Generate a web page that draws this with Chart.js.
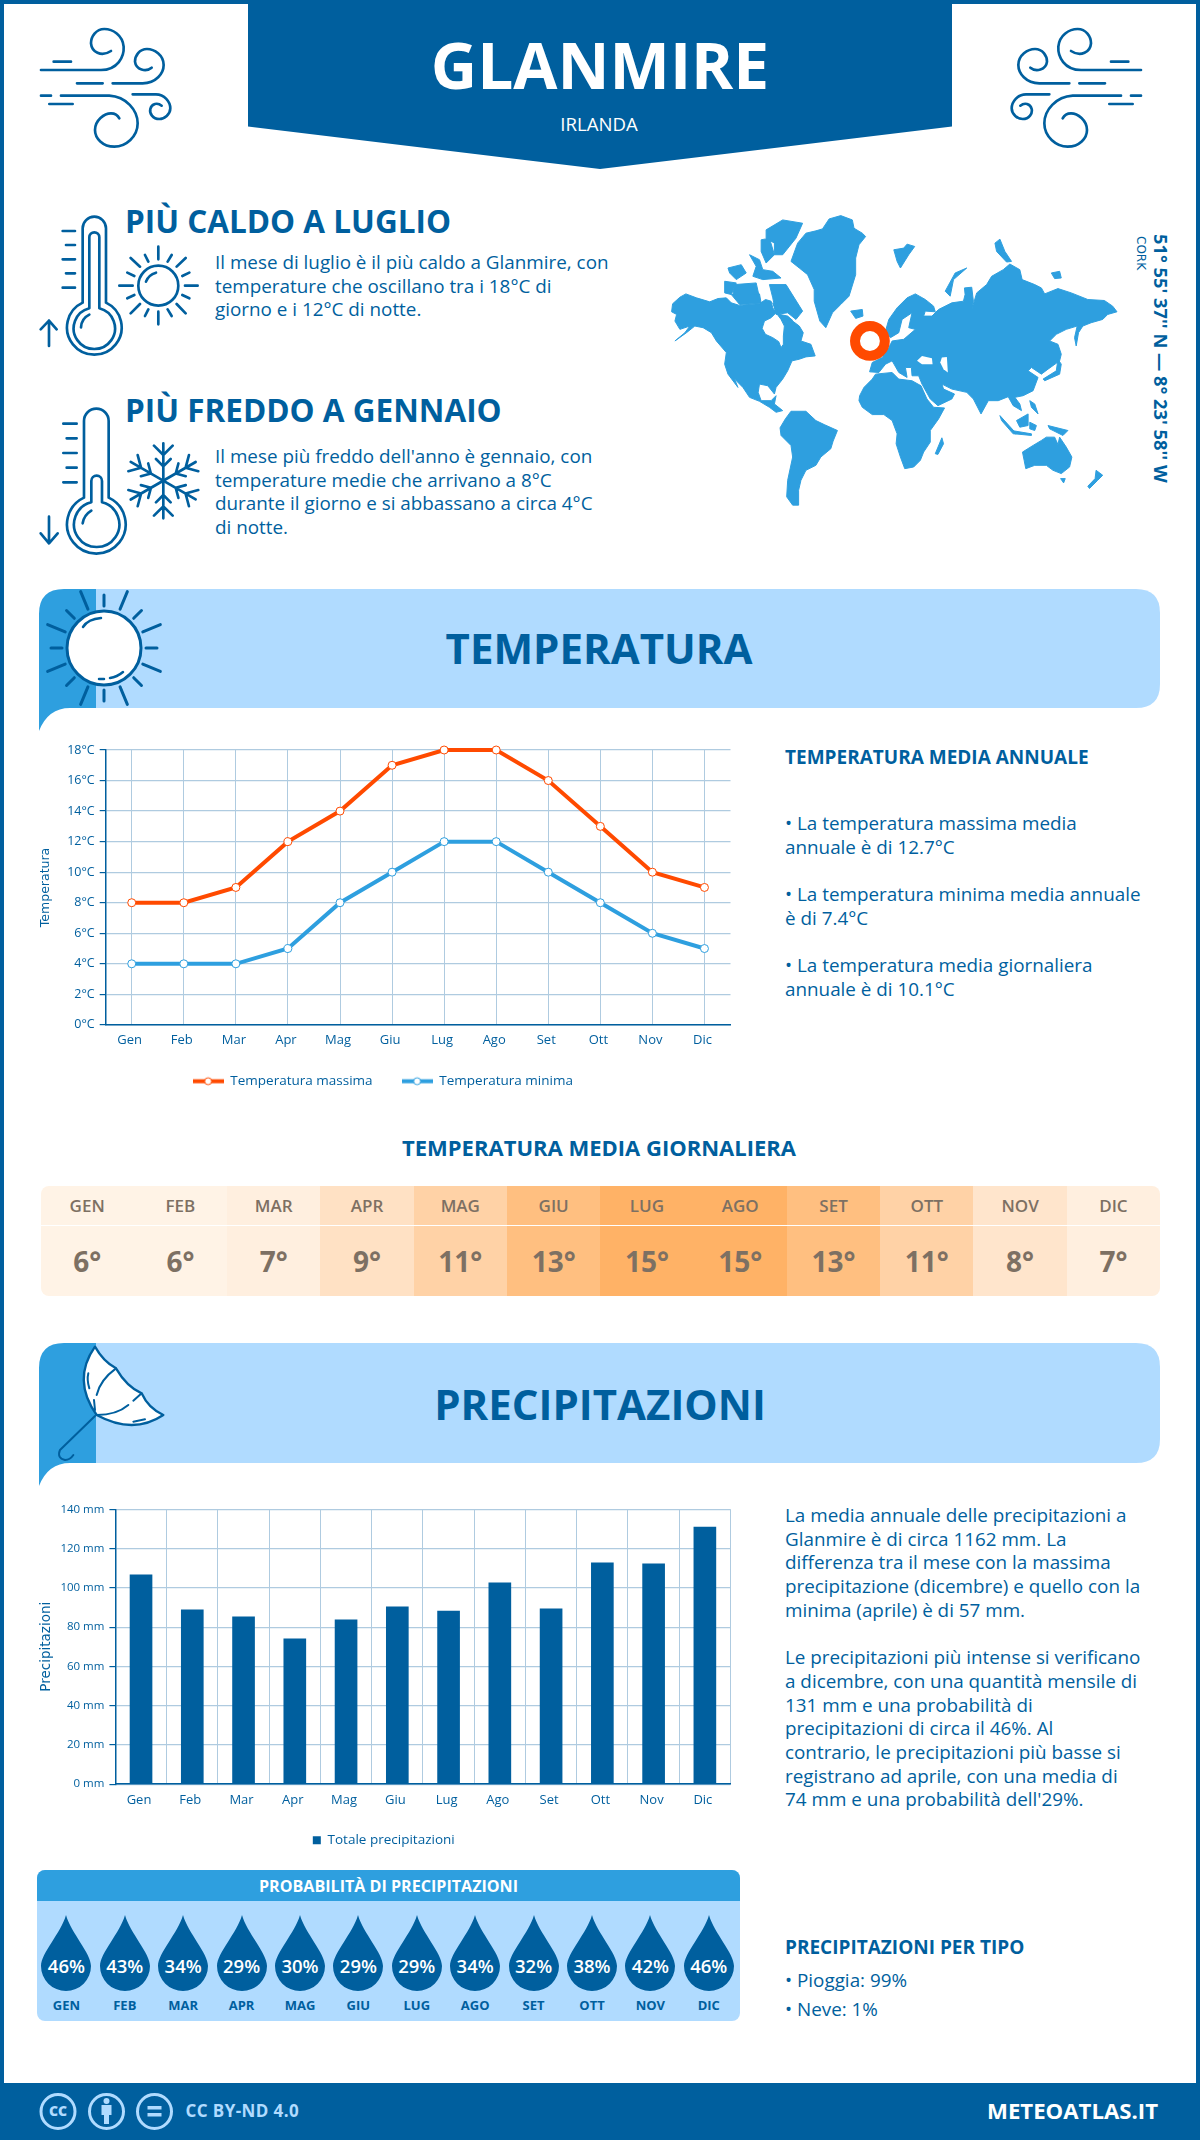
<!DOCTYPE html>
<html lang="it">
<head>
<meta charset="utf-8">
<title>Glanmire - Irlanda</title>
<script src="https://cdn.jsdelivr.net/npm/chart.js@4/dist/chart.umd.min.js"></script>
<style>
  html, body { margin: 0; padding: 0; background: #fff; }
  body { position: relative; width: 1200px; height: 2140px; overflow: hidden; font-family: "Open Sans", sans-serif; color: #005f9e; }
  .t { position: absolute; white-space: nowrap; }
  .c { transform: translateX(-50%); text-align: center; }
  .p { font-size: 18.85px; line-height: 23.7px; }
  .h { font-size: 31.5px; line-height: 40px; font-weight: 700; left: 125px; }
  .h3 { font-size: 19px; line-height: 26px; font-weight: 700; left: 785px; }
  canvas { position: absolute; }
  svg.deco { position: absolute; left: 0; top: 0; }
  .ln { fill: none; stroke: #005f9e; stroke-width: 8; stroke-linecap: round; stroke-linejoin: round; }
  #heat { position: absolute; left: 40.5px; top: 1185.7px; width: 1119.5px; height: 110px; display: flex; border-radius: 8px; overflow: hidden; color: #7d7063; }
  #heat div.col { flex: 1; position: relative; text-align: center; }
  #heat .m { position: absolute; left: 0; right: 0; top: 0; height: 39px; line-height: 39px; font-size: 17px; font-weight: 600; border-bottom: 1.5px solid #fff; }
  #heat .v { position: absolute; left: 0; right: 0; top: 41px; height: 68px; line-height: 68px; font-size: 28px; font-weight: 700; }
  #prob { position: absolute; left: 37px; top: 1870px; width: 703px; height: 151px; background: #b0dbff; border-radius: 8px; overflow: hidden; }
  #prob .head { background: #2e9fdf; height: 31px; line-height: 33px; text-align: center; color: #fff; font-size: 16.1px; font-weight: 700; }
  #prob .cell { position: absolute; top: 45px; width: 50px; text-align: center; }
  #prob svg { display: block; }
  #prob .pc { position: absolute; left: -5px; right: -5px; top: 38px; line-height: 26px; color: #fff; font-size: 18.5px; font-weight: 600; }
  #prob .mo { position: absolute; left: -5px; right: -5px; top: 80px; line-height: 20px; font-size: 13px; font-weight: 700; }
  #foot { position: absolute; left: 0; top: 2083px; width: 1200px; height: 57px; background: #005f9e; }
</style>
</head>
<body>

<div id="foot"></div>

<svg class="deco" width="1200" height="2140" viewBox="0 0 1200 2140">
  <!-- page frame -->
  <rect x="2" y="2" width="1196" height="2136" fill="none" stroke="#005f9e" stroke-width="4"/>

  <!-- header ribbon -->
  <polygon points="248,0 952,0 952,126.5 600,169 248,126.5" fill="#005f9e"/>

  <defs>
    <g id="wind">
      <path class="ln" d="M30 165H210C260 165 280 125 278 95C275 60 245 42 220 42C195 42 180 65 180 85C182 110 210 128 240 108"/>
      <path class="ln" d="M68 140H120M138 205H215M30 242H60M55 267H125"/>
      <path class="ln" d="M245 205H335C375 205 398 175 398 150C398 120 370 102 348 102C325 102 312 122 312 140C315 165 345 172 362 158"/>
      <path class="ln" d="M90 242H235C285 245 320 285 320 325C320 365 285 395 250 395C215 395 192 370 192 345C192 315 220 295 240 295C252 295 260 300 265 310"/>
      <path class="ln" d="M305 238H375C400 238 418 260 418 280C418 298 400 312 385 312C365 312 355 295 358 282C362 265 380 262 392 272"/>
    </g>
    <g id="flakeArm">
      <path class="ln" d="M430 145V370M402 152L430 180L458 152M408 192L430 214L452 192M402 362L430 334L458 362M408 322L430 300L452 322"/>
    </g>
  </defs>
  <use href="#wind" transform="translate(31 15) scale(.3333)"/>
  <use href="#wind" transform="translate(1151 15) scale(-.3333 .3333)"/>

  <!-- hot thermometer + sun -->
  <g transform="translate(20 200) scale(.3333)">
    <path class="ln" d="M188 308V85A35 35 0 0 1 258 85V308A82 82 0 1 1 188 308Z"/>
    <path class="ln" d="M208 325V112A15 15 0 0 1 238 112V325A62 62 0 1 1 208 325Z"/>
    <path class="ln" d="M183 382Q185 355 208 344"/>
    <path class="ln" d="M128 93H165M138 135H165M128 178H165M138 220H165M128 263H165"/>
    <path class="ln" d="M87 438V362M62 388L87 362L110 388"/>
    <circle class="ln" cx="415" cy="257" r="60"/>
    <path class="ln" d="M378 245Q385 225 408 218"/>
    <path class="ln" d="M415 140V178M415 335V373M298 257H338M495 257H533M332 174L360 200M497 174L470 200M332 340L360 312M497 340L470 312"/>
    <path class="ln" d="M375 165L385 185M455 165L443 185M322 218L343 228M508 218L487 228M322 295L343 285M508 295L487 285M375 348L385 328M455 348L443 328"/>
  </g>

  <!-- cold thermometer + snowflake -->
  <g transform="translate(20 395) scale(.3333)">
    <path class="ln" d="M192 308V78A37 37 0 0 1 266 78V308A88 88 0 1 1 192 308Z"/>
    <path class="ln" d="M214 322V258A16 16 0 0 1 246 258V322A68 68 0 1 1 214 322Z"/>
    <path class="ln" d="M188 385Q192 360 214 347"/>
    <path class="ln" d="M130 86H170M140 130H170M130 174H170M140 218H170M130 262H170"/>
    <path class="ln" d="M87 365V445M62 415L87 445L113 415"/>
    <use href="#flakeArm"/>
    <use href="#flakeArm" transform="rotate(60 430 257)"/>
    <use href="#flakeArm" transform="rotate(120 430 257)"/>
  </g>

  <!-- world map -->
  <g transform="translate(660 205) scale(.33163)" fill="#2e9fdf" stroke="#2e9fdf" stroke-width="3" stroke-linejoin="round">
    <polygon points="38,298 60,278 78,268 110,280 150,292 175,282 200,280 215,295 240,303 265,300 300,298 318,285 335,290 340,310 350,325 335,340 315,350 308,372 318,390 340,400 358,412 365,430 372,420 372,395 375,365 365,345 385,340 400,350 420,365 432,385 425,410 455,420 468,455 440,458 420,465 398,470 385,500 370,525 350,550 345,570 325,545 300,540 296,565 305,590 335,590 350,575 345,600 370,620 350,625 330,610 300,592 270,580 250,550 225,525 235,550 205,510 195,480 200,445 170,410 155,385 130,370 105,365 80,385 45,410 75,385 90,365 60,375 45,350 50,330 35,322"/>
    <polygon points="205,190 245,180 260,205 230,225 210,205"/>
    <polygon points="195,230 230,235 215,270 195,265"/>
    <polygon points="225,240 290,235 300,280 240,295 220,270"/>
    <polygon points="215,270 300,268 305,296 240,300"/>
    <polygon points="270,150 300,165 310,195 340,200 365,220 310,225 280,215 290,185"/>
    <polygon points="305,105 330,100 345,150 320,175 305,140"/>
    <polygon points="320,75 370,45 430,55 410,100 370,150 345,150 345,115 320,100"/>
    <polygon points="330,240 380,240 430,320 410,345 385,325 350,330 340,280"/>
    <polygon points="340,295 362,330 385,335 400,348 365,345 350,325"/>
    <polygon points="395,170 415,115 440,85 470,78 490,72 510,42 545,32 580,45 585,70 610,85 620,95 600,120 590,160 590,210 570,275 545,300 520,325 500,370 482,350 465,290 465,255 445,210 420,190"/>
    <polygon points="575,320 610,315 612,335 590,342"/>
    <polygon points="705,135 735,130 745,118 768,125 750,150 725,190 715,170"/>
    <polygon points="1010,115 1025,103 1040,140 1060,170 1045,172 1015,140"/>
    <polygon points="860,260 890,205 925,190 885,225 875,275"/>
    <polygon points="1180,205 1205,200 1210,220 1190,222"/>
    <polygon points="680,380 690,345 715,310 745,280 770,268 800,285 825,305 830,322 800,320 795,335 820,335 840,315 880,295 915,290 920,270 918,250 940,248 945,290 940,315 955,265 985,240 1000,215 1035,195 1055,178 1085,195 1092,225 1130,240 1150,250 1160,268 1200,252 1240,265 1290,285 1340,288 1365,305 1378,322 1350,330 1335,345 1300,355 1275,365 1262,385 1255,425 1250,400 1258,365 1225,375 1195,390 1175,410 1200,420 1210,450 1205,470 1170,495 1150,510 1120,490 1110,500 1140,520 1125,560 1095,575 1070,580 1085,600 1090,620 1065,605 1050,578 1020,590 990,590 968,630 945,585 925,565 880,555 850,540 855,555 888,570 880,585 838,605 815,585 790,540 780,515 760,515 758,490 740,490 745,520 720,505 700,470 680,480 660,505 632,503 640,475 670,460 690,430 700,410 735,405 770,375 750,370 760,325 730,345 720,385 695,400"/>
    <polygon points="602,575 615,550 640,525 650,510 700,505 720,525 760,530 787,545 805,585 825,610 858,612 840,645 815,680 815,715 795,745 785,770 765,790 738,795 725,760 712,720 715,690 700,650 675,632 640,632 610,610 600,590"/>
    <polygon points="850,702 830,750 838,752 855,720"/>
    <polygon points="1155,525 1195,500 1200,465 1210,480 1205,510 1160,530"/>
    <polygon points="1025,635 1075,690 1065,690 1030,650"/>
    <polygon points="1075,650 1110,630 1110,665 1085,670"/>
    <polygon points="1060,680 1120,690 1120,695 1070,690"/>
    <polygon points="1170,665 1230,680 1215,695 1175,675"/>
    <polygon points="1115,655 1135,665 1130,680 1115,675"/>
    <polygon points="1115,590 1130,600 1140,630 1120,610"/>
    <polygon points="1093,745 1125,725 1150,710 1165,700 1190,700 1200,722 1205,700 1225,730 1242,760 1235,790 1210,810 1185,800 1165,785 1130,785 1103,795 1098,770"/>
    <polygon points="1208,825 1222,825 1217,838"/>
    <polygon points="1315,800 1335,815 1320,830 1295,855 1290,848 1312,825"/>
    <polygon points="362,672 378,645 395,622 440,622 470,650 495,662 535,680 522,712 515,735 485,760 470,785 440,800 425,830 418,860 418,905 400,905 382,880 385,830 400,760 395,725 365,695"/>
    <g fill="#fff" stroke="none">
      <polygon points="775,470 790,455 820,462 822,480 790,480"/>
      <polygon points="850,460 865,458 868,505 855,495 845,475"/>
    </g>
    <circle cx="633" cy="410" r="45" fill="#fff" stroke="#ff4a00" stroke-width="30"/>
  </g>

  <!-- temperature banner -->
  <path d="M96 589H1136Q1160 589 1160 613V684Q1160 708 1136 708H96Z" fill="#b0dbff"/>
  <path d="M39 731V614Q39 589 64 589H96V708H70Q48 708 39 731Z" fill="#2e9fdf"/>
  <g id="sunRays" class="ln" style="stroke-width:3"></g>
  <circle cx="104" cy="648" r="37" fill="#fff" stroke="#005f9e" stroke-width="3"/>
  <path d="M83 627Q88 619 101 618M110 678Q117 677 123 672M99 679H104" fill="none" stroke="#005f9e" stroke-width="2.5" stroke-linecap="round"/>

  <!-- precipitation banner -->
  <path d="M96 1343H1136Q1160 1343 1160 1367V1439Q1160 1463 1136 1463H96Z" fill="#b0dbff"/>
  <path d="M39 1486V1368Q39 1343 64 1343H96V1463H70Q48 1463 39 1486Z" fill="#2e9fdf"/>
  <g transform="translate(30 1340) scale(.3333)">
    <path d="M195 20Q220 65 258 85Q290 140 335 160Q355 205 400 225Q310 285 200 225Q125 120 195 20Z" class="ln" style="fill:#fff;stroke-width:7"/>
    <path class="ln" style="stroke-width:6" d="M258 85Q210 120 200 165M175 100Q170 120 178 145M192 180L195 210M200 225Q260 225 295 195M310 182L335 160M310 245L345 238"/>
    <path class="ln" style="stroke-width:6" d="M195 228L90 330Q80 355 105 360Q120 360 130 345"/>
  </g>

  <!-- licence icons -->
  <g fill="none" stroke="#b0dbff" stroke-width="3">
    <circle cx="58" cy="2111.5" r="17"/>
    <circle cx="106.5" cy="2111.5" r="17"/>
    <circle cx="154.5" cy="2111.5" r="17"/>
  </g>
  <g fill="#b0dbff">
    <circle cx="106.5" cy="2101" r="3"/>
    <path d="M101.5 2105H111.5V2115H109V2124H104V2115H101.5Z"/>
    <rect x="147.5" y="2106" width="14" height="3.5"/>
    <rect x="147.5" y="2113" width="14" height="3.5"/>
  </g>
</svg>

<!-- header -->
<div class="t c" style="left:600px;top:30px;font-size:64px;line-height:70px;font-weight:700;color:#fff">GLANMIRE</div>
<div class="t c" style="left:599px;top:111px;font-size:18.6px;line-height:26px;font-weight:400;color:#fff">IRLANDA</div>

<!-- hottest / coldest -->
<div class="t h" style="top:201px">PIÙ CALDO A LUGLIO</div>
<div class="t p" style="left:215px;top:251px">Il mese di luglio è il più caldo a Glanmire, con<br>temperature che oscillano tra i 18°C di<br>giorno e i 12°C di notte.</div>
<div class="t h" style="top:390px">PIÙ FREDDO A GENNAIO</div>
<div class="t p" style="left:215px;top:445px">Il mese più freddo dell'anno è gennaio, con<br>temperature medie che arrivano a 8°C<br>durante il giorno e si abbassano a circa 4°C<br>di notte.</div>

<!-- coordinates -->
<div class="t" style="left:1161px;top:234px;transform-origin:0 0;transform:rotate(90deg) translateY(-50%);font-size:18.3px;line-height:24px;font-weight:700">51° 55' 37'' N — 8° 23' 58'' W</div>
<div class="t" style="left:1141px;top:236px;transform-origin:0 0;transform:rotate(90deg) translateY(-50%);font-family:'DejaVu Sans',sans-serif;font-size:12px;line-height:16px">CORK</div>

<!-- temperature -->
<div class="t c" style="left:599px;top:618px;font-size:42px;line-height:60px;font-weight:700">TEMPERATURA</div>
<canvas id="tempChart" width="715" height="368" style="left:35px;top:730px"></canvas>
<div class="t h3" style="top:744px">TEMPERATURA MEDIA ANNUALE</div>
<div class="t p" style="left:785px;top:812px">• La temperatura massima media<br>annuale è di 12.7°C<br><br>• La temperatura minima media annuale<br>è di 7.4°C<br><br>• La temperatura media giornaliera<br>annuale è di 10.1°C</div>

<div class="t c" style="left:599px;top:1132px;font-size:22px;line-height:30px;font-weight:700">TEMPERATURA MEDIA GIORNALIERA</div>
<div id="heat"></div>

<!-- precipitation -->
<div class="t c" style="left:600px;top:1374px;font-size:42px;line-height:60px;font-weight:700">PRECIPITAZIONI</div>
<canvas id="precipChart" width="715" height="367" style="left:37px;top:1490px"></canvas>
<div class="t p" style="left:785px;top:1504px">La media annuale delle precipitazioni a<br>Glanmire è di circa 1162 mm. La<br>differenza tra il mese con la massima<br>precipitazione (dicembre) e quello con la<br>minima (aprile) è di 57 mm.<br><br>Le precipitazioni più intense si verificano<br>a dicembre, con una quantità mensile di<br>131 mm e una probabilità di<br>precipitazioni di circa il 46%. Al<br>contrario, le precipitazioni più basse si<br>registrano ad aprile, con una media di<br>74 mm e una probabilità dell'29%.</div>

<div id="prob"><div class="head">PROBABILITÀ DI PRECIPITAZIONI</div></div>

<div class="t h3" style="top:1934px">PRECIPITAZIONI PER TIPO</div>
<div class="t p" style="left:785px;top:1966px;line-height:29px">• Pioggia: 99%<br>• Neve: 1%</div>

<!-- footer -->
<div class="t c" style="left:58px;top:2101px;font-size:14px;line-height:20px;font-weight:800;color:#b0dbff">CC</div>
<div class="t" style="left:185.6px;top:2098px;font-size:17px;line-height:26px;font-weight:700;letter-spacing:.4px;color:#b0dbff">CC BY-ND 4.0</div>
<div class="t" style="right:42px;top:2096px;font-size:22.2px;line-height:30px;font-weight:700;color:#fff">METEOATLAS.IT</div>

<script>
'use strict';

const months      = ['Gen', 'Feb', 'Mar', 'Apr', 'Mag', 'Giu', 'Lug', 'Ago', 'Set', 'Ott', 'Nov', 'Dic'];
const monthsUpper = ['GEN', 'FEB', 'MAR', 'APR', 'MAG', 'GIU', 'LUG', 'AGO', 'SET', 'OTT', 'NOV', 'DIC'];
const tempMax     = [8, 8, 9, 12, 14, 17, 18, 18, 16, 13, 10, 9];
const tempMin     = [4, 4, 4, 5, 8, 10, 12, 12, 10, 8, 6, 5];
const tempDaily   = [6, 6, 7, 9, 11, 13, 15, 15, 13, 11, 8, 7];
const precipMm    = [106.6, 88.8, 85.2, 74, 83.7, 90.3, 88.2, 102.5, 89.3, 112.7, 112.2, 131];
const precipProb  = [46, 43, 34, 29, 30, 29, 29, 34, 32, 38, 42, 46];

const colorDark  = '#005f9e';
const colorBlue  = '#2e9fdf';
const colorHot   = '#ff4a00';
const colorGrid  = '#afcbe0';
const heatColors = { 6: '#fff3e6', 7: '#ffefdf', 8: '#ffe5cc', 9: '#ffe1c4', 11: '#ffd2a6', 13: '#ffbf80', 15: '#ffb266' };

Chart.defaults.font.family = '"Open Sans", sans-serif';
Chart.defaults.font.size = 13;
Chart.defaults.color = colorDark;
Chart.defaults.animation = false;

/* sun rays on the temperature banner */
(function () {
    const g = document.getElementById('sunRays');
    let d = '';
    for (let i = 0; i < 16; i++) {
        const a = i * Math.PI / 8;
        const r0 = 42, r1 = i % 2 ? 61 : 53;
        const sx = Math.sin(a), cy = Math.cos(a);
        d += 'M' + (104 + r0 * sx) + ' ' + (648 - r0 * cy) + 'L' + (104 + r1 * sx) + ' ' + (648 - r1 * cy);
    }
    const p = document.createElementNS('http://www.w3.org/2000/svg', 'path');
    p.setAttribute('d', d);
    g.appendChild(p);
})();

/* daily mean heat strip */
document.getElementById('heat').innerHTML = monthsUpper.map(function (m, i) {
    return '<div class="col" style="background:' + heatColors[tempDaily[i]] + '">' +
        '<div class="m">' + m + '</div><div class="v">' + tempDaily[i] + '°</div></div>';
}).join('');

/* rain probability drops */
const drop = '<svg width="50" height="76" viewBox="0 0 50 76"><path fill="#005f9e" d="M25 0C30 18 50 38 50 51A25 25 0 0 1 0 51C0 38 20 18 25 0Z"/></svg>';
document.getElementById('prob').insertAdjacentHTML('beforeend', monthsUpper.map(function (m, i) {
    return '<div class="cell" style="left:' + (4.4 + i * 58.4) + 'px">' + drop +
        '<div class="pc">' + precipProb[i] + '%</div><div class="mo">' + m + '</div></div>';
}).join(''));

/* legend swatch: line with a hollow marker */
function lineSwatch(color) {
    const c = document.createElement('canvas');
    c.width = 31; c.height = 11;
    const x = c.getContext('2d');
    x.fillStyle = color;
    x.fillRect(0, 3.5, 31, 4);
    x.beginPath();
    x.arc(15.5, 5.5, 3.5, 0, Math.PI * 2);
    x.fillStyle = '#fff';
    x.fill();
    x.lineWidth = 1;
    x.strokeStyle = color;
    x.stroke();
    return c;
}

function axisTitle(text, size, pad) {
    return { display: true, text: text, color: colorDark, font: { family: '"DejaVu Sans", sans-serif', size: size }, padding: { top: pad, bottom: 0 } };
}

function fixedSize(prop, value) {
    return function (scale) { scale[prop] = value; };
}

// x labels sit below the squeezed axis box, so don't let the scale clip them
const openLabelArea = {
    id: 'openLabelArea',
    afterLayout: function (chart) { chart.scales.x.bottom = chart.height; }
};

/* Temperature */
const swatches = [lineSwatch(colorHot), lineSwatch(colorBlue)];
new Chart(document.getElementById('tempChart'), {
    type: 'line',
    plugins: [openLabelArea],
    data: {
        labels: months,
        datasets: [
            { label: 'Temperatura massima', data: tempMax, clip: false, borderColor: colorHot, borderWidth: 4, pointRadius: 4, pointBorderWidth: 1, pointBackgroundColor: '#fff', pointBorderColor: colorHot, tension: 0 },
            { label: 'Temperatura minima', data: tempMin, clip: false, borderColor: colorBlue, borderWidth: 4, pointRadius: 4, pointBorderWidth: 1, pointBackgroundColor: '#fff', pointBorderColor: colorBlue, tension: 0 }
        ]
    },
    options: {
        responsive: false,
        layout: { padding: { top: 20, left: 0, right: 19.5, bottom: 0 } },
        plugins: {
            tooltip: { enabled: false },
            legend: {
                position: 'bottom',
                labels: {
                    usePointStyle: true,
                    pointStyleWidth: 31,
                    padding: 29,
                    font: { size: 13.5 },
                    color: colorDark,
                    generateLabels: function (chart) {
                        return Chart.defaults.plugins.legend.labels.generateLabels(chart).map(function (item, i) {
                            item.pointStyle = swatches[i];
                            return item;
                        });
                    }
                }
            }
        },
        scales: {
            x: {
                offset: true,
                afterFit: fixedSize('height', 20.6),
                grid: { color: colorGrid, lineWidth: 1, drawTicks: false },
                border: { color: colorDark, width: 1.5 },
                ticks: { color: colorDark, padding: 8, maxRotation: 0, labelOffset: -2 }
            },
            y: {
                min: 0, max: 18,
                afterFit: fixedSize('width', 70.7),
                title: axisTitle('Temperatura', 12.5, 3),
                grid: { color: colorGrid, lineWidth: 1.2, tickColor: colorDark, tickLength: 6 },
                border: { color: colorDark, width: 1.5 },
                ticks: { stepSize: 2, color: colorDark, padding: 5, font: { size: 12.5 }, callback: function (v) { return v + '°C'; } }
            }
        }
    }
});

/* Precipitation */
new Chart(document.getElementById('precipChart'), {
    type: 'bar',
    plugins: [openLabelArea],
    data: {
        labels: months,
        datasets: [{ label: 'Totale precipitazioni', data: precipMm, backgroundColor: colorDark, barThickness: 22 }]
    },
    options: {
        responsive: false,
        layout: { padding: { top: 19.3, left: 0, right: 21.5, bottom: 0 } },
        plugins: {
            tooltip: { enabled: false },
            legend: {
                position: 'bottom',
                labels: { boxWidth: 8, boxHeight: 8, padding: 29, font: { size: 13.5 }, color: colorDark }
            }
        },
        scales: {
            x: {
                afterFit: fixedSize('height', 20.3),
                grid: {
                    color: function (c) { return c.index === months.length ? 'transparent' : colorGrid; },
                    lineWidth: 1, drawTicks: false
                },
                border: { color: colorDark, width: 1.5 },
                ticks: { color: colorDark, padding: 8, maxRotation: 0, labelOffset: -2 }
            },
            y: {
                min: 0, max: 140,
                afterFit: fixedSize('width', 78.4),
                title: axisTitle('Precipitazioni', 13.5, 1),
                grid: { color: colorGrid, lineWidth: 1.2, tickColor: colorDark, tickLength: 6 },
                border: { color: colorDark, width: 1.5 },
                ticks: { stepSize: 20, color: colorDark, padding: 5, font: { size: 11.5 }, callback: function (v) { return v + ' mm'; } }
            }
        }
    }
});
</script>
</body>
</html>
